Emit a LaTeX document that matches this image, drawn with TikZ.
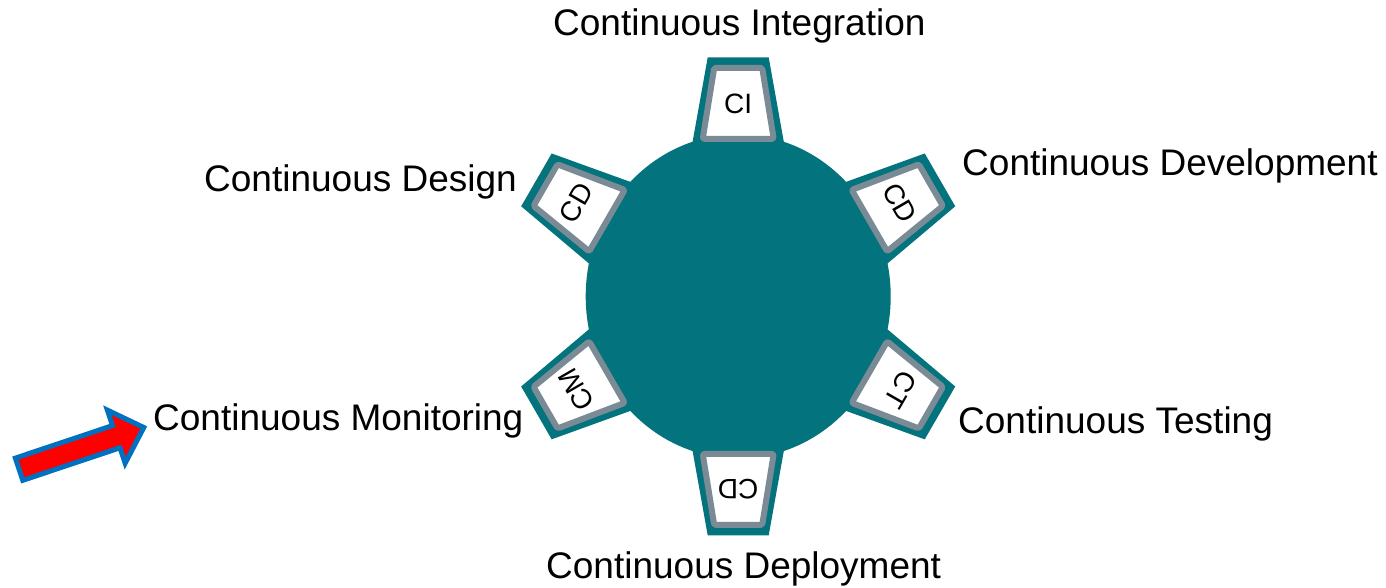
\documentclass[tikz,border=0pt]{standalone}
\usepackage{fontspec}
\setmainfont{Liberation Sans}
\definecolor{gearteal}{RGB}{3,115,125}
\definecolor{boxgray}{RGB}{122,139,150}
\definecolor{arrowblue}{RGB}{0,112,192}
\definecolor{arrowred}{RGB}{255,0,0}
\begin{document}
\begin{tikzpicture}[x=1pt,y=1pt,
  lbl/.style={font=\fontsize{37}{44}\selectfont, inner sep=0pt, anchor=base west},
  toothlbl/.style={font=\fontsize{28}{32}\selectfont, inner sep=0pt, transform shape},
  toothshape/.style={fill=gearteal},
  toothbox/.style={draw=boxgray, fill=white, line width=6pt, rounded corners=1.5pt, line join=round},
  bigarrow/.style={line width=5pt, draw=arrowblue, fill=arrowred, line join=miter}]
\useasboundingbox (0,0) rectangle (1386,587);
\coordinate (C) at (738.2,290.6);
\fill[gearteal] (C) ellipse [x radius=152.5, y radius=162];
\foreach \ang/\R/\txt/\nm in {90/239/CI/tci, 30/233/CD/tcdev, -30/233/CT/tct, -90/239/CD/tcdep, -150/233/CM/tcm, 150/233/CD/tcdes}{
  \begin{scope}[shift={(C)}, rotate=\ang-90]
    \fill[toothshape] (-30.5,\R) -- (30.5,\R) -- (48.4,\R-100) -- (-48.4,\R-100) -- cycle;
    \draw[toothbox] (-24,\R-10.5) -- (24,\R-10.5) -- (35.5,\R-81.5) -- (-35.5,\R-81.5) -- cycle;
    \node[toothlbl] (\nm) at (0,\R-46) {\txt};
  \end{scope}
}
\node[lbl] (lci) at (553,551) {Continuous Integration};
\node[lbl] (ldes) at (204,395) {Continuous Design};
\node[lbl] (ldev) at (962,411) {Continuous Development};
\node[lbl] (ltest) at (958,154) {Continuous Testing};
\node[lbl] (lmon) at (153,157) {Continuous Monitoring};
\node[lbl] (ldep) at (546,9) {Continuous Deployment};
\begin{scope}[shift={(16.7,117)}, rotate=18.5]
  \draw[bigarrow] (2.5,-11.7) -- (105,-11.7) -- (105,-28) -- (134,0) -- (105,28) -- (105,11.7) -- (2.5,11.7) -- cycle;
\end{scope}
\end{tikzpicture}
\end{document}
